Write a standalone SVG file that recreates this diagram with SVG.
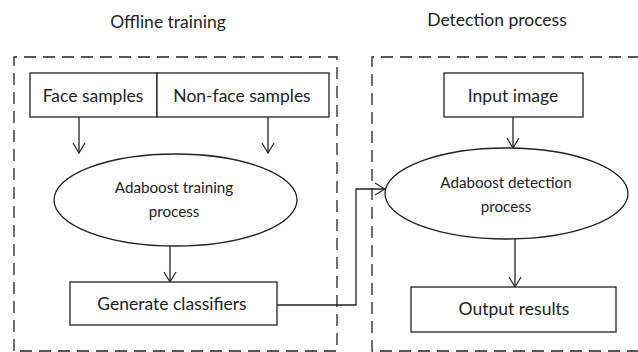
<svg xmlns="http://www.w3.org/2000/svg" width="638" height="352" viewBox="0 0 638 352">
<defs>
<marker id="arr" viewBox="0 0 12 14" refX="11" refY="7" markerWidth="12" markerHeight="14" markerUnits="userSpaceOnUse" orient="auto">
<polyline points="1,1 11,7 1,13" fill="none" stroke="#222" stroke-width="1.2"/>
</marker>
<style>
.box{fill:#fff;stroke:#222;stroke-width:1.3}
.dash{fill:none;stroke:#222;stroke-width:1.3;stroke-dasharray:12 7}
.t{font-family:Lato,"Open Sans","Liberation Sans",sans-serif;font-size:17.5px;fill:#222;text-anchor:middle}
.e{font-family:Lato,"Open Sans","Liberation Sans",sans-serif;font-size:15.2px;fill:#222;text-anchor:middle}
.h{font-family:Lato,"Open Sans","Liberation Sans",sans-serif;font-size:17.5px;fill:#222;text-anchor:middle}
.c{fill:none;stroke:#222;stroke-width:1.3}
</style>
</defs>
<rect width="638" height="352" fill="#fff"/>
<text class="h" x="168" y="28">Offline training</text>
<text class="h" x="497" y="26">Detection process</text>
<g id="offline-group"><path class="dash" d="M14,351 V57 H337 V351 Z"/></g>
<g id="detection-group"><path class="dash" d="M640,57 H372 V351 H640"/></g>
<g id="connectors">
<line class="c" x1="79" y1="117" x2="79" y2="153" marker-end="url(#arr)"/>
<line class="c" x1="268" y1="117" x2="268" y2="153" marker-end="url(#arr)"/>
<line class="c" x1="170" y1="246" x2="170" y2="282" marker-end="url(#arr)"/>
<polyline class="c" points="277,305 356,305 356,189 385,189" marker-end="url(#arr)"/>
<line class="c" x1="513" y1="117" x2="513" y2="148" marker-end="url(#arr)"/>
<line class="c" x1="515" y1="239" x2="515" y2="287" marker-end="url(#arr)"/>
</g>
<g id="face-samples"><rect class="box" x="30" y="73" width="127" height="44"/><text class="t" x="93" y="102">Face samples</text></g>
<g id="non-face-samples"><rect class="box" x="157" y="73" width="172" height="44"/><text class="t" x="242" y="102">Non-face samples</text></g>
<g id="adaboost-training"><ellipse class="box" cx="175.5" cy="200" rx="121.5" ry="46"/><text class="e" x="174" y="193">Adaboost training</text><text class="e" x="174" y="217">process</text></g>
<g id="generate-classifiers"><rect class="box" x="70" y="282" width="207" height="43"/><text class="t" x="172" y="310">Generate classifiers</text></g>
<g id="input-image"><rect class="box" x="444" y="73" width="139" height="44"/><text class="t" x="513" y="102">Input image</text></g>
<g id="adaboost-detection"><ellipse class="box" cx="506.5" cy="193.5" rx="121.5" ry="45.5"/><text class="e" x="506" y="188">Adaboost detection</text><text class="e" x="506" y="212">process</text></g>
<g id="output-results"><rect class="box" x="411" y="287" width="205" height="45"/><text class="t" x="514" y="315">Output results</text></g>
</svg>
